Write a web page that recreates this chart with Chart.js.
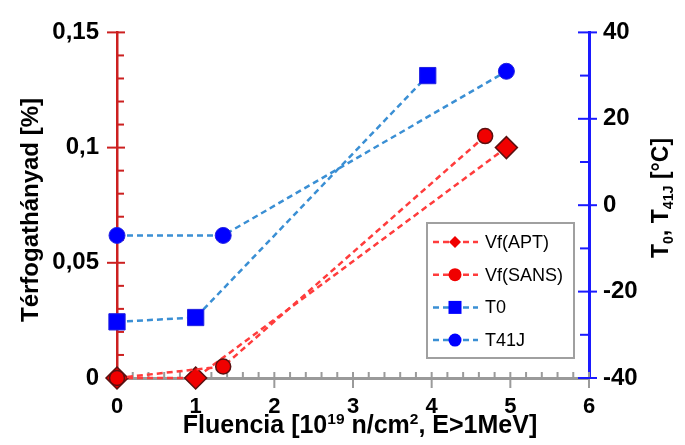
<!DOCTYPE html>
<html>
<head>
<meta charset="utf-8">
<script src="https://cdn.jsdelivr.net/npm/chart.js@4.4.1/dist/chart.umd.min.js"></script>
<style>
  body { margin: 0; background: #fff; }
</style>
</head>
<body>
<canvas id="myChart" width="685" height="445"></canvas>
<script>
// fluence [1e19 n/cm2] and values
const aptX = [0, 1, 4.95];
const aptY = [0, 0, 0.1];
const sansX = [0, 1.35, 4.68];
const sansY = [0, 0.005, 0.105];
const t0X = [0, 1, 3.95];
const t0Y = [-27, -26, 30];
const t41X = [0, 1.35, 4.95];
const t41Y = [-7, -7, 31];

const seriesLabels = ["Vf(APT)", "Vf(SANS)", "T0", "T41J"];

const FONT = "'Liberation Sans', Arial, sans-serif";
const RED_LINE = "#ff3c3c";
const BLUE_LINE = "#3a8fd4";

function toPoints(xs, ys) {
  return xs.map((x, i) => ({ x: x, y: ys[i] }));
}

// draws a text made of runs, some of them sub/superscript
function drawRuns(ctx, runs, size) {
  let total = 0;
  runs.forEach((r) => {
    const s = r.pos ? size * 0.62 : size;
    ctx.font = "bold " + s + "px " + FONT;
    r.w = ctx.measureText(r.t).width;
    total += r.w;
  });
  let x = -total / 2;
  runs.forEach((r) => {
    const s = r.pos ? size * 0.62 : size;
    ctx.font = "bold " + s + "px " + FONT;
    let dy = 0;
    if (r.pos === "sup") dy = -size * 0.38;
    if (r.pos === "sub") dy = size * 0.2;
    ctx.fillText(r.t, x, dy);
    x += r.w;
  });
}

const axisDecor = {
  id: "axisDecor",
  beforeDatasetsDraw(chart) {
    const { ctx, chartArea: a, scales } = chart;
    ctx.save();
    ctx.lineWidth = 2;

    // x ticks every 0.2, major every 1
    ctx.strokeStyle = "#9a9a9a";
    for (let i = 0; i <= 30; i++) {
      const px = scales.x.getPixelForValue(i / 5);
      const major = i % 5 === 0;
      ctx.beginPath();
      ctx.moveTo(px, a.bottom - 6);
      ctx.lineTo(px, major ? a.bottom + 10 : a.bottom);
      ctx.stroke();
    }

    // left ticks every 0.01, major every 0.05
    ctx.strokeStyle = "#cc2020";
    for (let i = 0; i <= 15; i++) {
      const py = scales.y.getPixelForValue(i / 100);
      const major = i % 5 === 0;
      ctx.beginPath();
      ctx.moveTo(major ? a.left - 10 : a.left, py);
      ctx.lineTo(a.left + (major ? 8 : 7), py);
      ctx.stroke();
    }

    // right ticks every 10, major every 20
    ctx.strokeStyle = "#1a1aff";
    for (let i = -4; i <= 4; i++) {
      const py = scales.y2.getPixelForValue(i * 10);
      const major = i % 2 === 0;
      ctx.beginPath();
      ctx.moveTo(a.right - (major ? 11 : 9), py);
      ctx.lineTo(major ? a.right + 8 : a.right, py);
      ctx.stroke();
    }
    ctx.restore();
  },
  afterDraw(chart) {
    const { ctx } = chart;
    ctx.save();
    ctx.fillStyle = "#000";
    ctx.textBaseline = "alphabetic";
    ctx.textAlign = "left";

    // x title
    ctx.save();
    ctx.translate(360, 433);
    drawRuns(ctx, [
      { t: "Fluencia [10" },
      { t: "19", pos: "sup" },
      { t: " n/cm" },
      { t: "2", pos: "sup" },
      { t: ", E>1MeV]" },
    ], 25);
    ctx.restore();

    // left title
    ctx.save();
    ctx.translate(38, 210);
    ctx.rotate(-Math.PI / 2);
    drawRuns(ctx, [{ t: "Térfogathányad [%]" }], 24);
    ctx.restore();

    // right title
    ctx.save();
    ctx.translate(668, 198);
    ctx.rotate(-Math.PI / 2);
    drawRuns(ctx, [
      { t: "T" },
      { t: "0", pos: "sub" },
      { t: ", T" },
      { t: "41J", pos: "sub" },
      { t: " [°C]" },
    ], 23);
    ctx.restore();

    // legend inside the plot
    const box = { x: 427, y: 223, w: 147, h: 135 };
    ctx.fillStyle = "#fff";
    ctx.fillRect(box.x, box.y, box.w, box.h);
    ctx.strokeStyle = "#a0a0a0";
    ctx.lineWidth = 2;
    ctx.strokeRect(box.x, box.y, box.w, box.h);

    chart.data.datasets.forEach((ds, i) => {
      const y = 242 + i * 32.7;
      ctx.save();
      ctx.strokeStyle = ds.borderColor;
      ctx.lineWidth = 2.5;
      ctx.setLineDash([6, 4]);
      ctx.beginPath();
      ctx.moveTo(433, y);
      ctx.lineTo(478, y);
      ctx.stroke();
      ctx.restore();

      ctx.fillStyle = ds.pointBackgroundColor;
      const cx = 455;
      ctx.beginPath();
      if (ds.pointStyle === "rectRot") {
        ctx.moveTo(cx - 6, y);
        ctx.lineTo(cx, y - 6);
        ctx.lineTo(cx + 6, y);
        ctx.lineTo(cx, y + 6);
        ctx.closePath();
      } else if (ds.pointStyle === "rect") {
        ctx.rect(cx - 6.5, y - 6.5, 13, 13);
      } else {
        ctx.arc(cx, y, 6.5, 0, Math.PI * 2);
      }
      ctx.fill();

      ctx.fillStyle = "#000";
      ctx.font = "18px " + FONT;
      ctx.textBaseline = "middle";
      ctx.fillText(ds.label, 485, y + 1);
    });
    ctx.restore();
  },
};

function commaLabel(v) {
  if (v === 0) return "0";
  return String(+v.toFixed(2)).replace(".", ",");
}

const ctx = document.getElementById("myChart");

new Chart(ctx, {
  type: "scatter",
  data: {
    datasets: [
      {
        label: seriesLabels[0],
        data: toPoints(aptX, aptY),
        yAxisID: "y",
        showLine: true,
        borderColor: RED_LINE,
        borderWidth: 2.5,
        borderDash: [6, 4],
        pointStyle: "rectRot",
        pointRadius: 11,
        pointBackgroundColor: "#f00000",
        pointBorderColor: "#5a1010",
        pointBorderWidth: 1.5,
        clip: false,
        order: 2,
      },
      {
        label: seriesLabels[1],
        data: toPoints(sansX, sansY),
        yAxisID: "y",
        showLine: true,
        borderColor: RED_LINE,
        borderWidth: 2.5,
        borderDash: [6, 4],
        pointStyle: "circle",
        pointRadius: 7.5,
        pointBackgroundColor: "#f00000",
        pointBorderColor: "#5a1010",
        pointBorderWidth: 1.5,
        clip: false,
        order: 1,
      },
      {
        label: seriesLabels[2],
        data: toPoints(t0X, t0Y),
        yAxisID: "y2",
        showLine: true,
        borderColor: BLUE_LINE,
        borderWidth: 2.5,
        borderDash: [6, 4],
        pointStyle: "rect",
        pointRadius: 11.5,
        pointBackgroundColor: "#0000ff",
        pointBorderColor: "#2020e0",
        pointBorderWidth: 1,
        clip: false,
        order: 4,
      },
      {
        label: seriesLabels[3],
        data: toPoints(t41X, t41Y),
        yAxisID: "y2",
        showLine: true,
        borderColor: BLUE_LINE,
        borderWidth: 2.5,
        borderDash: [6, 4],
        pointStyle: "circle",
        pointRadius: 8,
        pointBackgroundColor: "#0000ff",
        pointBorderColor: "#2020e0",
        pointBorderWidth: 1,
        clip: false,
        order: 3,
      },
    ],
  },
  options: {
    responsive: false,
    animation: false,
    layout: { padding: { top: 22, left: 0, right: 0, bottom: 0 } },
    plugins: {
      legend: { display: false },
      tooltip: { enabled: false },
    },
    scales: {
      x: {
        type: "linear",
        position: "bottom",
        min: 0,
        max: 6,
        grid: { display: false, drawTicks: false },
        border: { display: true, color: "#9a9a9a", width: 3 },
        ticks: {
          stepSize: 1,
          padding: 16,
          color: "#000",
          font: { family: FONT, size: 22, weight: "bold" },
        },
        afterFit: (s) => {
          s.height = 67;
        },
      },
      y: {
        position: "left",
        min: 0,
        max: 0.15,
        grid: { display: false, drawTicks: false },
        border: { display: true, color: "#cc2020", width: 2.5 },
        ticks: {
          stepSize: 0.05,
          padding: 18,
          color: "#000",
          font: { family: FONT, size: 24, weight: "bold" },
          callback: (v) => commaLabel(v),
        },
        afterFit: (s) => {
          s.width = 117;
        },
      },
      y2: {
        position: "right",
        min: -40,
        max: 40,
        grid: { display: false, drawTicks: false },
        border: { display: true, color: "#1a1aff", width: 3 },
        ticks: {
          stepSize: 20,
          padding: 14,
          color: "#000",
          font: { family: FONT, size: 24, weight: "bold" },
        },
        afterFit: (s) => {
          s.width = 96;
        },
      },
    },
  },
  plugins: [axisDecor],
});
</script>
</body>
</html>
